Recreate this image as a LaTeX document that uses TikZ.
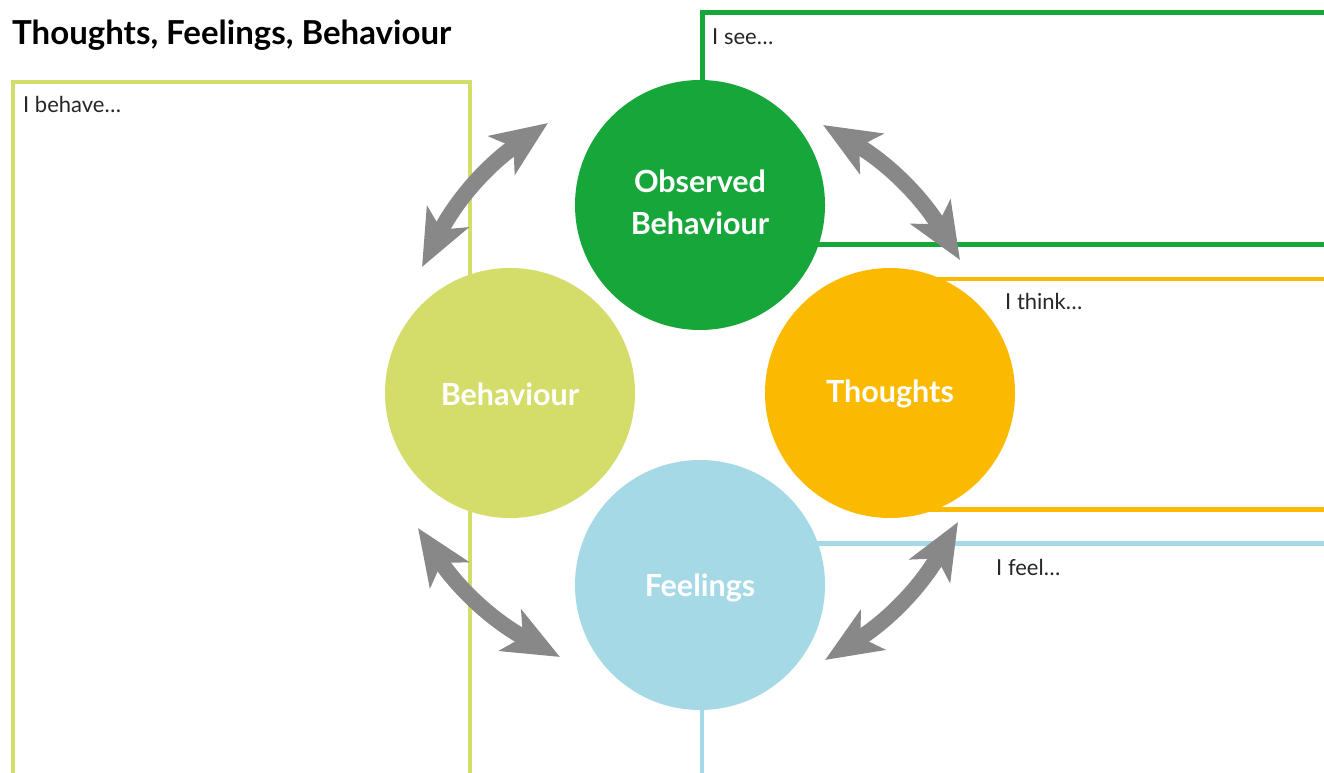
\documentclass[tikz,border=0pt]{standalone}
\usepackage{fontspec}
\setmainfont{Lato}
\usetikzlibrary{arrows.meta}
\definecolor{obsgreen}{HTML}{16A63A}
\definecolor{thoorange}{HTML}{FBBA00}
\definecolor{behgreen}{HTML}{D4DC6A}
\definecolor{feeblue}{HTML}{A5D9E6}
\definecolor{arrowgray}{HTML}{888888}
\begin{document}
\begin{tikzpicture}[x=1pt,y=1pt,
  boxline/.style={line width=4.5pt},
  circ/.style={circle, minimum size=250pt, inner sep=0pt},
  circtext/.style={text=white, font=\fontsize{30.5}{42}\selectfont\bfseries, align=center},
  boxtext/.style={anchor=base west, inner sep=0pt, font=\fontsize{22}{26}\selectfont, text=black!85},
  twoway/.style={line width=16pt, draw=arrowgray,
    {Stealth[length=56pt,width=46pt,inset=14pt]}-{Stealth[length=56pt,width=46pt,inset=14pt]}}
]
\useasboundingbox (0,0) rectangle (1324,772);
\clip (0,0) rectangle (1324,772);
\fill[white] (0,0) rectangle (1324,772);

% boxes
\draw[boxline, draw=behgreen] (13,-20) rectangle (470,690);
\draw[boxline, draw=obsgreen] (702.5,759.5) rectangle (1345,527.5);
\draw[boxline, draw=thoorange] (890,493) rectangle (1345,262.5);
\draw[boxline, draw=feeblue] (702,228.5) rectangle (1345,-30);

% title and box texts
\node[anchor=base west, inner sep=0pt, font=\fontsize{33}{38}\selectfont\bfseries] (title) at (12,727) {Thoughts, Feelings, Behaviour};
\node[boxtext] (tbeh) at (23,659) {I behave…};
\node[boxtext] (tsee) at (712,727) {I see…};
\node[boxtext] (tthi) at (1005,462) {I think…};
\node[boxtext] (tfee) at (996,197) {I feel…};

% circles
\node[circ, fill=obsgreen] (obs) at (700,567) {};
\node[circ, fill=thoorange] (tho) at (890,379) {};
\node[circ, fill=behgreen] (beh) at (510,379) {};
\node[circ, fill=feeblue] (fee) at (700,187) {};
\node[circtext] (obst) at (700,570) {Observed\\Behaviour};
\node[circtext] (thot) at (890,378) {Thoughts};
\node[circtext] (beht) at (510,378) {Behaviour};
\node[circtext] (feet) at (700,184) {Feelings};

% arrows
\coordinate (a1s) at (422,505);
\coordinate (a1e) at (548,649);
\coordinate (a2s) at (823,647);
\coordinate (a2e) at (960,512);
\coordinate (a3s) at (560,115);
\coordinate (a3e) at (418,244);
\coordinate (a4s) at (958,250);
\coordinate (a4e) at (825,112);
\draw[twoway] (a1s) to[bend left=14] (a1e);
\draw[twoway] (a2s) to[bend left=14] (a2e);
\draw[twoway] (a3s) to[bend left=14] (a3e);
\draw[twoway] (a4s) to[bend left=14] (a4e);
\end{tikzpicture}
\end{document}
